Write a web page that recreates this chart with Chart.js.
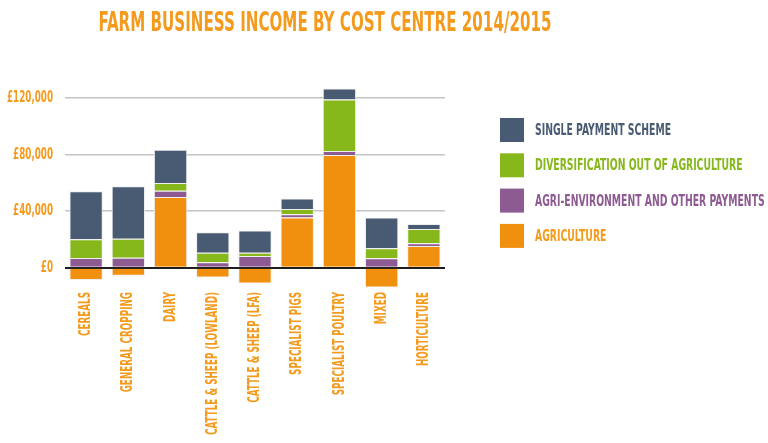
<!DOCTYPE html>
<html>
<head>
<meta charset="utf-8">
<script src="https://cdn.jsdelivr.net/npm/chart.js@4/dist/chart.umd.min.js"></script>
<style>
  html, body { margin: 0; padding: 0; background: #fff; }
  #wrap { width: 768px; height: 443px; }
</style>
</head>
<body>
<div id="wrap"><canvas id="fbi" width="768" height="443"></canvas></div>
<script>
const categories = ["CEREALS", "GENERAL CROPPING", "DAIRY", "CATTLE & SHEEP (LOWLAND)", "CATTLE & SHEEP (LFA)",
    "SPECIALIST PIGS", "SPECIALIST POULTRY", "MIXED", "HORTICULTURE"];
const agriculture     = [-8700, -5700, 50000, -6800, -11100, 35500, 79800, -14000, 15400];
const agriEnvironment = [6900, 7100, 4500, 4000, 8300, 2400, 2800, 6700, 2000];
const diversification = [13300, 13500, 5500, 6600, 2400, 3600, 36500, 7100, 10000];
const singlePayment   = [34000, 37000, 23500, 14500, 15600, 7500, 7800, 21700, 3600];
const yTicks = [0, 40000, 80000, 120000];

const TITLE = "FARM BUSINESS INCOME BY COST CENTRE 2014/2015";
const ORANGE_TXT = "#f49a1c";
const NARROW = "'Liberation Sans Narrow', 'DejaVu Sans Condensed', 'Liberation Sans', sans-serif";

const money = v => '£' + v.toLocaleString('en-GB');

// squeeze text horizontally (along its own direction) so it reads like the condensed poster face
function squeezed(c, text, x, y, k, align, rot) {
    c.save();
    c.translate(x, y);
    if (rot) c.rotate(rot);
    c.scale(k, 1);
    c.textAlign = align;
    c.textBaseline = 'middle';
    c.fillText(text, 0, 0);
    c.restore();
}

const decor = {
    id: 'decor',
    afterDraw(chart) {
        const c = chart.ctx;
        c.save();
        c.fillStyle = ORANGE_TXT;

        // title
        c.font = "bold 27px " + NARROW;
        squeezed(c, TITLE, 325, 24, 453 / c.measureText(TITLE).width, 'center');

        // y tick labels
        const ys = chart.scales.y;
        c.font = "bold 15px " + NARROW;
        const ky = 46 / c.measureText(money(120000)).width;
        yTicks.forEach(v => squeezed(c, money(v), 53, ys.getPixelForValue(v), ky, 'right'));

        // x category labels, rotated, reading upwards
        const xs = chart.scales.x;
        c.font = "bold 16px " + NARROW;
        const kx = 143 / c.measureText(categories[3]).width;
        categories.forEach((lab, i) => squeezed(c, lab, xs.getPixelForTick(i), 292, kx, 'right', -Math.PI / 2));
        c.restore();

        // legend
        const items = chart.data.datasets.slice().reverse();
        c.save();
        c.font = "bold 16px " + NARROW;
        const k = 136 / c.measureText("SINGLE PAYMENT SCHEME").width;
        items.forEach((ds, i) => {
            const y = 130 + i * 35.3;
            c.fillStyle = ds.backgroundColor;
            c.fillRect(500, y - 12, 24, 24);
            c.fillStyle = ds.legendColor || ds.backgroundColor;
            squeezed(c, ds.label, 535, y + 1, k, 'left');
        });
        c.restore();
    }
};

const seg = { borderColor: '#eeeeee', borderWidth: 1, barPercentage: 0.79, categoryPercentage: 1 };

new Chart(document.getElementById('fbi').getContext('2d'), {
    type: 'bar',
    data: {
        labels: categories,
        datasets: [
            { label: "AGRICULTURE", data: agriculture, backgroundColor: "#f0900e", legendColor: ORANGE_TXT, ...seg },
            { label: "AGRI-ENVIRONMENT AND OTHER PAYMENTS", data: agriEnvironment, backgroundColor: "#8d5a92", ...seg },
            { label: "DIVERSIFICATION OUT OF AGRICULTURE", data: diversification, backgroundColor: "#86b81b", ...seg },
            { label: "SINGLE PAYMENT SCHEME", data: singlePayment, backgroundColor: "#485b73", ...seg }
        ]
    },
    options: {
        responsive: false,
        animation: false,
        layout: { padding: { top: 84, right: 323, bottom: 0, left: 0 } },
        plugins: { legend: { display: false }, title: { display: false }, tooltip: { enabled: false } },
        scales: {
            x: {
                stacked: true,
                afterFit: s => { s.height = 154; },
                grid: { display: false, drawTicks: false },
                border: { display: false },
                ticks: { display: false }
            },
            y: {
                stacked: true,
                min: -15000,
                max: 130000,
                afterFit: s => { s.width = 65; },
                afterBuildTicks: s => { s.ticks = yTicks.map(v => ({ value: v })); },
                border: { display: false },
                grid: {
                    drawTicks: false,
                    color: ctx => ctx.tick && ctx.tick.value === 0 ? '#1e1e1e' : '#c4c4c4',
                    lineWidth: ctx => ctx.tick && ctx.tick.value === 0 ? 2 : 1.5
                },
                ticks: { display: false }
            }
        }
    },
    plugins: [decor]
});
</script>
</body>
</html>
